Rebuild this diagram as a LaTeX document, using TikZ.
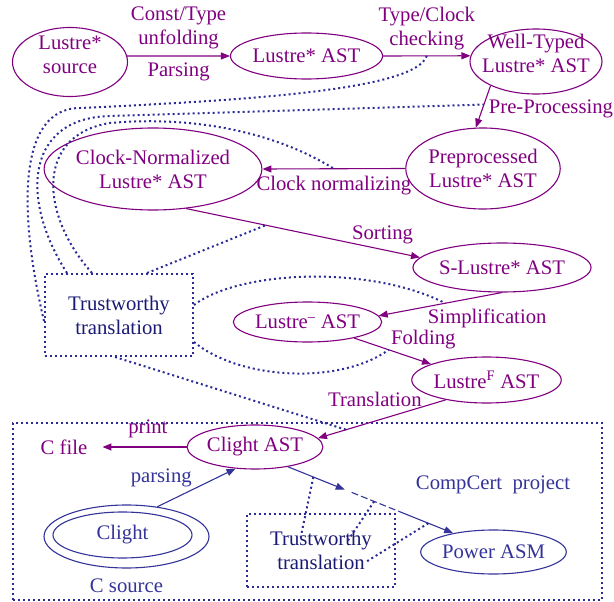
\documentclass[tikz,border=0pt]{standalone}
\usepackage{fontspec}
\setmainfont{Liberation Serif}
\usetikzlibrary{arrows.meta,positioning,calc,shapes.geometric}
\definecolor{lpurple}{HTML}{800080}
\definecolor{cblue}{HTML}{333399}
\definecolor{navy}{HTML}{1A1A75}
\definecolor{dotblue}{HTML}{2B2B96}

\begin{document}
\begin{tikzpicture}[x=1pt,y=-1pt,>={Triangle[length=9pt,width=7pt]},
  font=\fontsize{20.7}{24}\selectfont,
  lnode/.style={draw=lpurple,text=lpurple,ellipse,line width=1.1pt,inner sep=0pt,align=center},
  cnode/.style={draw=cblue,text=cblue,ellipse,line width=1.1pt,inner sep=0pt,align=center},
  tbox/.style={draw=dotblue,text=navy,line width=2pt,dash pattern=on 2pt off 3pt,inner sep=0pt,align=center},
  dots/.style={draw=dotblue,line width=2pt,dash pattern=on 2pt off 3pt},
  flow/.style={->,draw=lpurple,line width=1.1pt},
  cflow/.style={->,draw=cblue,line width=1.1pt},
  lbl/.style={inner sep=0pt,align=center},
  plbl/.style={lbl,text=lpurple},
  clbl/.style={lbl,text=cblue}]
\useasboundingbox (0,0) rectangle (614,602);

% CompCert part
\node[dots,inner sep=0pt,minimum width=589,minimum height=177] (compcert) at (307.5,511.5) {};
\node[clbl] (ccp) at (493,485) {CompCert~~project};

% Lustre chain
\node[lnode,minimum width=115,minimum height=69,label={[plbl,yshift=7pt]center:Lustre*\\source}] (src) at (70,62) {};
\node[lnode,minimum width=131,minimum height=46] (ast) at (306.5,56) {Lustre* AST};
\node[lnode,minimum width=132,minimum height=65,label={[plbl,yshift=8pt]center:Well-Typed\\Lustre* AST}] (wt) at (536,61.5) {};
\node[lnode,minimum width=154,minimum height=81] (pre) at (483,168.5) {Preprocessed\\Lustre* AST};
\node[lnode,minimum width=180,minimum height=82] (cn) at (153,169) {Clock-Normalized\\Lustre* AST};
\node[lnode,minimum width=164,minimum height=49] (slus) at (502,267.5) {S-Lustre* AST};
\node[lnode,minimum width=131,minimum height=40] (lm) at (307.5,322) {Lustre\textsuperscript{--} AST};
\node[lnode,minimum width=131,minimum height=46] (lf) at (486.5,380) {Lustre\textsuperscript{F} AST};
\node[lnode,minimum width=132,minimum height=44] (cl) at (255,447) {Clight AST};
\node[plbl] (cfile) at (64,447) {C file};

% C side
\node[cnode,minimum width=165,minimum height=63] (csrc) at (126.5,536.5) {};
\node[cnode,minimum width=139,minimum height=46] (clight) at (122.5,535) {Clight};
\node[clbl,below=10pt of csrc] (csrclbl) {C source};
\node[cnode,minimum width=131,minimum height=44] (pw) at (493.5,552) {Power ASM};

\node[tbox,minimum width=148,minimum height=82] (ttop) at (119,315) {Trustworthy\\translation};
\node[tbox,minimum width=148,minimum height=73] (tbot) at (321,550.5) {Trustworthy\\translation};

\draw[flow] (src.6) -- node[plbl,above=6.5pt]{Const/Type\\unfolding} node[plbl,below=6.5pt]{Parsing} (ast.west);
\draw[flow] (ast.east) -- node[plbl,above=5.5pt]{Type/Clock\\checking} (wt.175);
\draw[flow] (wt.208) -- node[plbl,pos=0.56,right=6pt]{Pre-Processing} (pre.100);
\draw[flow] (pre.west) -- node[plbl,below=6.5pt]{Clock normalizing} (cn.east);
\draw[flow] (cn.310) -- node[plbl,pos=0.84,above=5.5pt]{Sorting} (slus.173);
\draw[flow] (slus.south) -- node[plbl,pos=0.12,below=13pt]{Simplification} (lm.5);
\draw[flow] (lm.341) -- node[plbl,pos=0.9,above=12pt]{Folding} (lf.164);
\draw[flow] (lf.206) -- node[plbl,pos=0.555,above=13.5pt]{Translation} (cl.8);
\draw[flow,shorten >=15pt] (cl.west) -- node[plbl,pos=0.39,above=8.5pt]{print} (cfile.east);

\draw[cflow] (csrc.44) -- node[clbl,pos=0.05,above=17pt]{parsing} (cl.228);
\coordinate (m1) at ($(cl.329)!0.344!(pw.155)$);
\coordinate (m2) at ($(cl.329)!0.386!(pw.155)$);
\coordinate (m3) at ($(cl.329)!0.67!(pw.155)$);
\draw[cflow] (cl.329) -- (m1);
\draw[cblue,line width=1.1pt,dash pattern=on 7pt off 3pt] (m2) -- (m3);
\draw[cflow] (m3) -- (pw.155);

% where the trustworthy parts hook in
\coordinate (a1) at ($(ast.east)!0.5!(wt.175)$);
\coordinate (b1) at ($(wt.208)!0.45!(pre.100)$);
\coordinate (c1) at ($(pre.west)!0.5!(cn.east)$);
\coordinate (d1) at ($(cn.310)!0.34!(slus.173)$);
\coordinate (e1) at ($(slus.south)!0.46!(lm.5)$);
\coordinate (f1) at ($(lm.341)!0.45!(lf.164)$);
\coordinate (g1) at ($(lf.206)!0.78!(cl.8)$);
\coordinate (h1) at ($(cl.329)!0.154!(pw.155)$);
\coordinate (i1) at ($(cl.329)!0.522!(pw.155)$);
\coordinate (j1) at ($(cl.329)!0.85!(pw.155)$);

\draw[dots] ($(ttop.west)+(0,6)$) .. controls (20,220) and (15,108) .. (80,108) .. controls (250,100) and (415,90) .. (a1);
\draw[dots] ($(ttop.north west)+(23,0)$) .. controls (20,200) and (25,118) .. (110,116) -- (b1);
\draw[dots] ($(ttop.north west)+(48,0)$) .. controls (40,215) and (35,135) .. (110,123) .. controls (200,115) and (280,135) .. (c1);
\draw[dots] ($(ttop.north)+(28,0)$) -- (d1);
\draw[dots] ($(ttop.east)+(0,-10)$) .. controls (240,270) and (370,265) .. (e1);
\draw[dots] ($(ttop.east)+(0,27)$) .. controls (240,380) and (340,385) .. (f1);
\draw[dots] ($(ttop.south)+(-4,0)$) -- (g1);
\draw[dots] (h1) -- ($(tbot.center)+(-21,-10)$);
\draw[dots] (i1) -- ($(tbot.center)+(27,-10)$);
\draw[dots] (j1) -- ($(tbot.center)+(44,12)$);
\end{tikzpicture}
\end{document}
